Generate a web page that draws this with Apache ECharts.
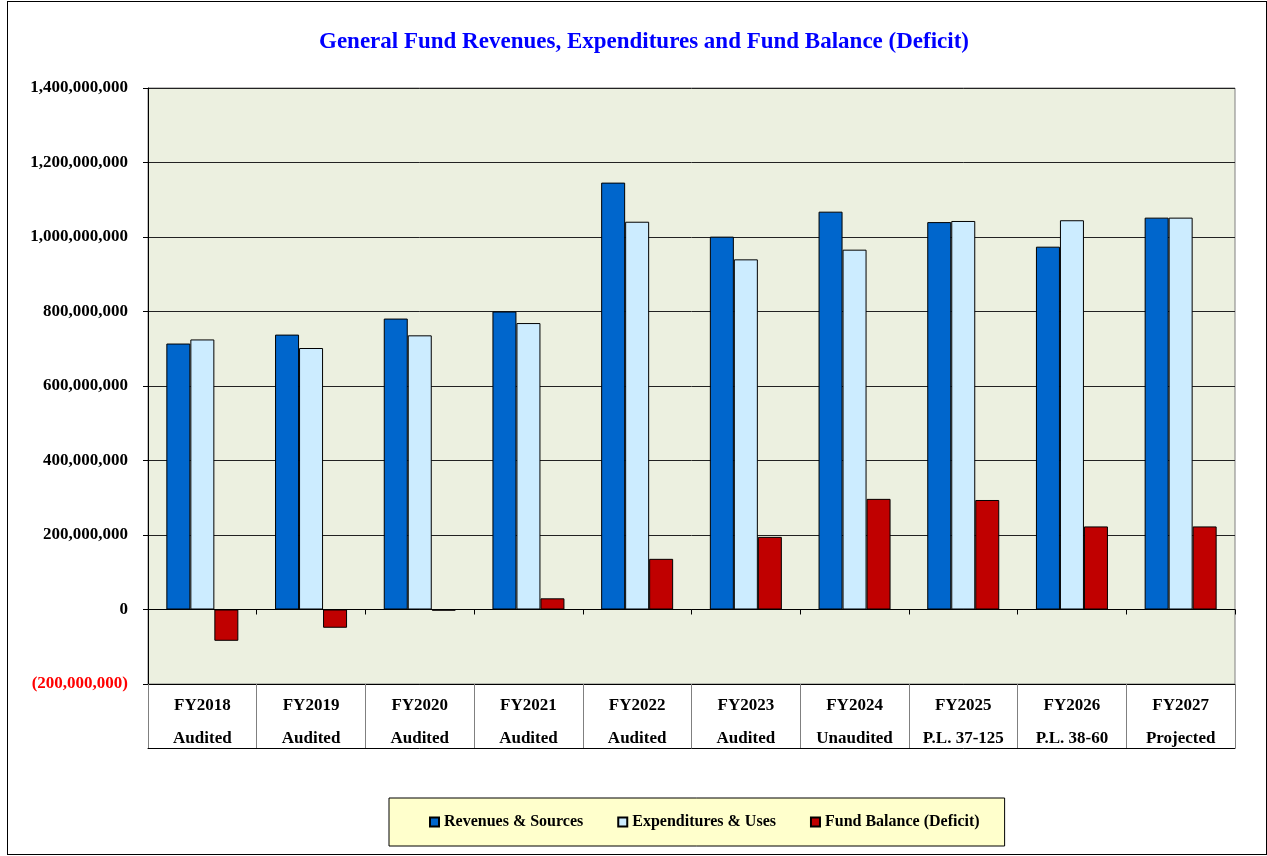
<!DOCTYPE html>
<html>
<head>
<meta charset="utf-8">
<title>General Fund</title>
<script src="https://cdn.jsdelivr.net/npm/echarts@6/dist/echarts.min.js"></script>
<style>
  html, body { margin: 0; padding: 0; background: #fff; }
  #frame { position: absolute; left: 7px; top: 1px; width: 1258px; height: 852px; border: 1px solid #000; }
  #chart { position: absolute; left: 0; top: 0; width: 1267px; height: 856px; }
</style>
</head>
<body>
<div id="frame"></div>
<div id="chart"></div>
<script>
  // values
  var years = ['FY2018', 'FY2019', 'FY2020', 'FY2021', 'FY2022', 'FY2023', 'FY2024', 'FY2025', 'FY2026', 'FY2027']
  var yearStatus = ['Audited', 'Audited', 'Audited', 'Audited', 'Audited', 'Audited', 'Unaudited', 'P.L. 37-125', 'P.L. 38-60', 'Projected']
  var revenues = [714e6, 738e6, 781e6, 800e6, 1146e6, 1001e6, 1068e6, 1040e6, 974e6, 1052e6]
  var expenditures = [725e6, 702e6, 736e6, 769e6, 1041e6, 940e6, 966e6, 1043e6, 1045e6, 1052e6]
  var fundBalance = [-84e6, -49e6, -3e6, 30e6, 136e6, 195e6, 297e6, 294e6, 223e6, 223e6]
  var yMin = -200e6, yMax = 1400e6, yStep = 200e6

  var serif = '"Liberation Serif", "Times New Roman", serif'

  function fmt(v) {
    var n = Number(v)
    var s = Math.abs(n).toLocaleString('en-US')
    return n < 0 ? '(' + s + ')' : s
  }

  var chart = echarts.init(document.getElementById('chart'))
  chart.setOption({
    backgroundColor: 'transparent',
    animation: false,
    title: {
      text: 'General Fund Revenues, Expenditures and Fund Balance (Deficit)',
      left: 314,
      top: 26,
      textStyle: { color: '#0000FF', fontFamily: serif, fontWeight: 'bold', fontSize: 23 }
    },
    grid: {
      left: 148, top: 88, width: 1087, height: 596,
      show: true,
      backgroundColor: '#ECF0E0',
      borderColor: '#808080',
      borderWidth: 1
    },
    legend: {
      left: 389,
      top: 798,
      padding: [16, 25, 16, 40],
      itemGap: 34,
      itemWidth: 9,
      itemHeight: 9,
      icon: 'rect',
      backgroundColor: '#FFFFCC',
      borderColor: '#000',
      borderWidth: 1,
      textStyle: { fontFamily: serif, fontWeight: 'bold', fontSize: 16, color: '#000' }
    },
    xAxis: [
      {
        type: 'category',
        data: years,
        axisLine: { onZero: true, lineStyle: { color: '#000', width: 1 } },
        axisTick: { show: true, length: 5, lineStyle: { color: '#000' } },
        axisLabel: { show: false },
        splitLine: { show: false },
        z: 5
      },
      {
        type: 'category',
        data: years.map(function (y, i) { return y + '\n' + yearStatus[i] }),
        position: 'bottom',
        axisLine: { onZero: false, lineStyle: { color: '#000', width: 1 } },
        axisTick: { show: true, length: 64, lineStyle: { color: '#808080' } },
        axisLabel: {
          margin: 5,
          lineHeight: 33,
          fontFamily: serif, fontWeight: 'bold', fontSize: 17, color: '#000'
        }
      },
      {
        type: 'category',
        data: years,
        position: 'bottom',
        offset: 64,
        axisLine: { onZero: false, lineStyle: { color: '#000', width: 1 } },
        axisTick: { show: false },
        axisLabel: { show: false }
      }
    ],
    yAxis: {
      type: 'value',
      min: yMin,
      max: yMax,
      interval: yStep,
      axisLine: { show: true, lineStyle: { color: '#000' } },
      axisTick: { show: true, length: 5, lineStyle: { color: '#000' } },
      splitLine: { lineStyle: { color: '#222', width: 1 } },
      axisLabel: {
        margin: 20,
        formatter: fmt,
        color: function (v) { return Number(v) < 0 ? '#FF0000' : '#000' },
        fontFamily: serif, fontWeight: 'bold', fontSize: 17
      }
    },
    series: [
      {
        name: 'Revenues & Sources',
        type: 'bar',
        xAxisIndex: 0,
        barWidth: 24,
        barGap: '0%',
        data: revenues,
        itemStyle: { color: '#0066CC', borderColor: '#000', borderWidth: 1 }
      },
      {
        name: 'Expenditures & Uses',
        type: 'bar',
        xAxisIndex: 0,
        barWidth: 24,
        barGap: '0%',
        data: expenditures,
        itemStyle: { color: '#CCECFF', borderColor: '#000', borderWidth: 1 }
      },
      {
        name: 'Fund Balance (Deficit)',
        type: 'bar',
        xAxisIndex: 0,
        barWidth: 24,
        barGap: '0%',
        data: fundBalance,
        itemStyle: { color: '#C00000', borderColor: '#000', borderWidth: 1 }
      }
    ]
  })
</script>
</body>
</html>
